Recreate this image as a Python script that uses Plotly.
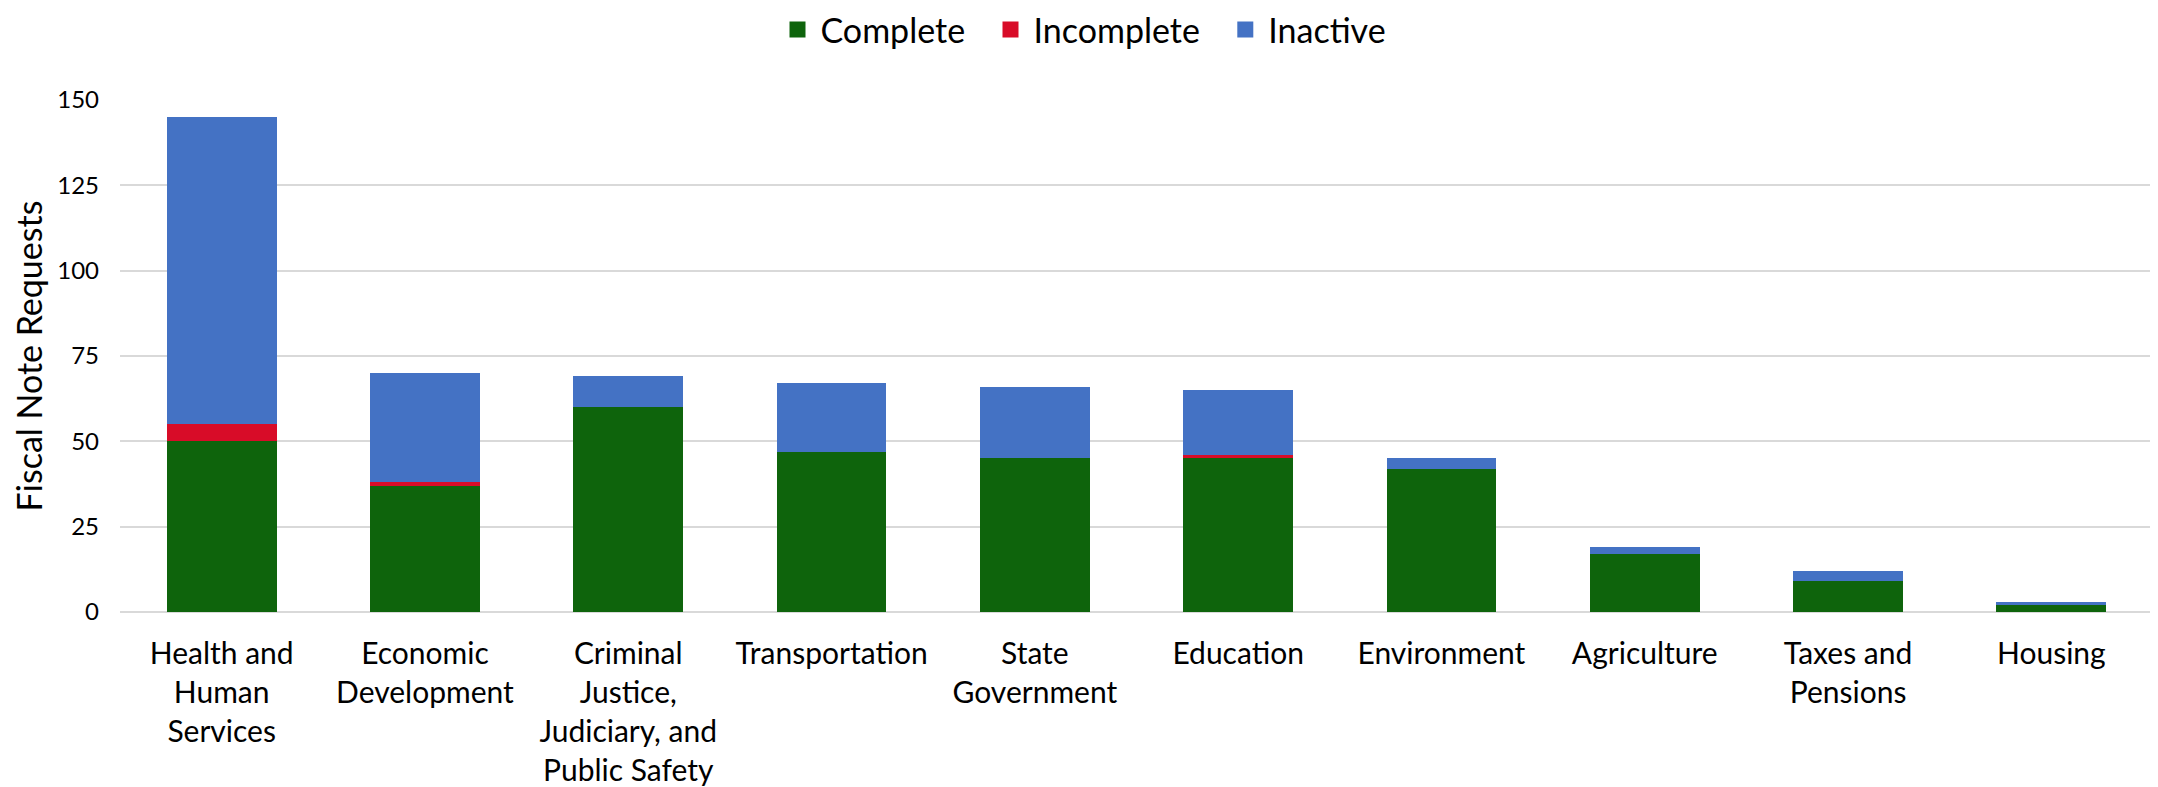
import plotly.graph_objects as go

categories = [
    "Health and<br>Human<br>Services",
    "Economic<br>Development",
    "Criminal<br>Justice,<br>Judiciary, and<br>Public Safety",
    "Transportation",
    "State<br>Government",
    "Education",
    "Environment",
    "Agriculture",
    "Taxes and<br>Pensions",
    "Housing",
]
complete = [50, 37, 60, 47, 45, 45, 42, 17, 9, 2]
incomplete = [5, 1, 0, 0, 0, 1, 0, 0, 0, 0]
inactive = [90, 32, 9, 20, 21, 19, 3, 2, 3, 1]
y_ticks = [0, 25, 50, 75, 100, 125, 150]
series_names = ["Complete", "Incomplete", "Inactive"]

FONT = "Lato, Calibri, 'Open Sans', sans-serif"
colors = ["#0E640C", "#D80C28", "#4472C4"]
values = [complete, incomplete, inactive]

fig = go.Figure()
for name, vals, color in zip(series_names, values, colors):
    fig.add_trace(go.Bar(x=categories, y=vals, name=name, marker_color=color,
                         marker_line_width=0, showlegend=False, legendgroup=name))
for i, (name, color) in enumerate(zip(series_names, colors)):
    label = name + ("\u00a0\u00a0" if i < len(series_names) - 1 else "")
    fig.add_trace(go.Scatter(x=[None], y=[None], mode="markers", name=label,
                             legendgroup=name,
                             marker=dict(symbol="square", size=17, color=color)))

# page body has an 8px margin, so the figure is sized/placed to compensate
fig.update_layout(
    barmode="stack",
    bargap=0.46,
    width=2150, height=779,
    margin=dict(l=112, r=5, t=92, b=175),
    plot_bgcolor="white", paper_bgcolor="white",
    font=dict(family=FONT, color="black"),
    legend=dict(orientation="h", xref="container", x=0.5, xanchor="center",
                yref="container", y=1 - 22 / 779, yanchor="middle",
                font=dict(size=34), traceorder="normal", itemwidth=36,
                itemsizing="trace"),
    showlegend=True,
)
fig.update_xaxes(tickfont=dict(size=30), showline=False, ticks="",
                 ticklabelstandoff=21, automargin=False)
fig.update_yaxes(range=[0, 150], tickvals=y_ticks, tickfont=dict(size=24),
                 showgrid=True, gridcolor="#D9D9D9", gridwidth=2,
                 zeroline=True, zerolinecolor="#D9D9D9", zerolinewidth=2,
                 title=dict(text="Fiscal Note Requests", font=dict(size=34), standoff=4),
                 ticklabelstandoff=20, automargin=False)

fig.write_html("out.html")
